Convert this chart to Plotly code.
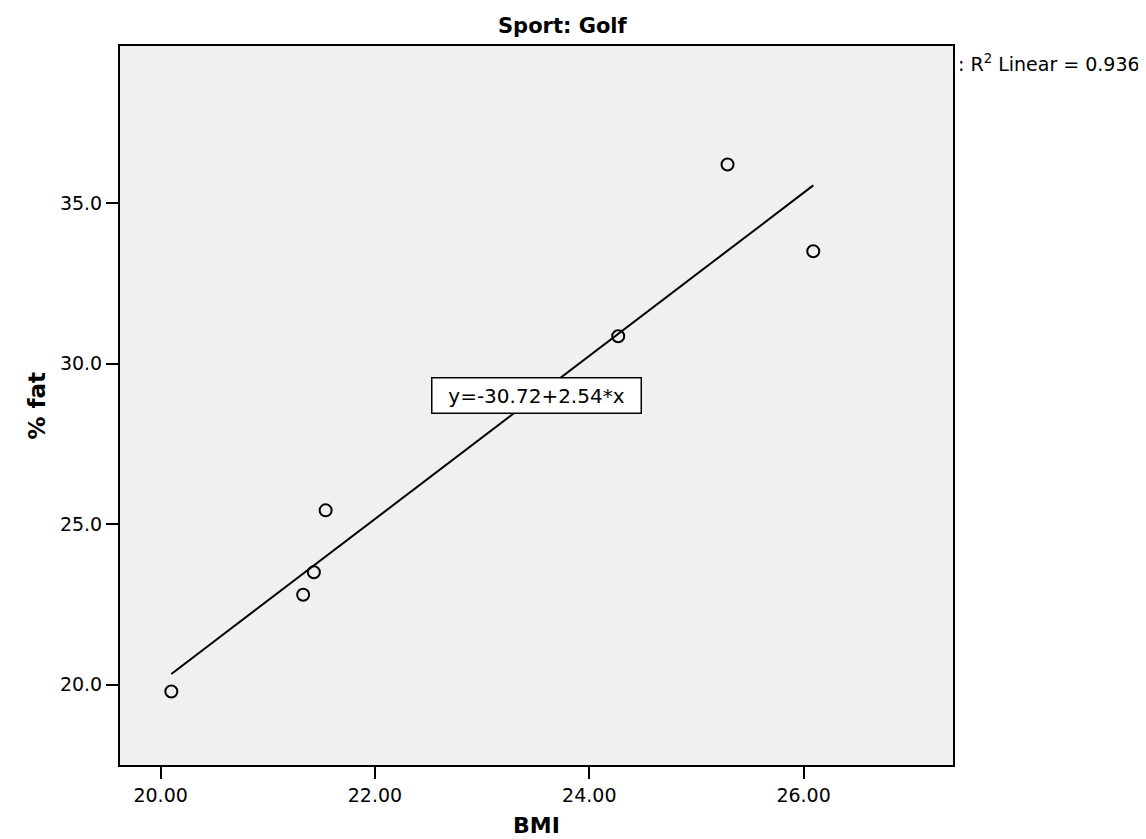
import plotly.graph_objects as go

# Data
bmi = [20.10, 21.33, 21.43, 21.54, 24.27, 25.29, 26.09]
pct_fat = [19.79, 22.80, 23.50, 25.43, 30.85, 36.20, 33.50]
intercept = -30.72
slope = 2.54
r_squared = 0.936
x_ticks = [20, 22, 24, 26]
y_ticks = [20, 25, 30, 35]

FONT = "DejaVu Sans"
W, H = 1146, 839
L, R, T, B = 112, 945, 38, 757  # plot area pixel edges

x_fit = [min(bmi), max(bmi)]
y_fit = [intercept + slope * v for v in x_fit]

fig = go.Figure()
fig.add_trace(go.Scatter(
    x=x_fit, y=y_fit, mode="lines",
    line=dict(color="black", width=2), showlegend=False, hoverinfo="skip"))
fig.add_trace(go.Scatter(
    x=bmi, y=pct_fat, mode="markers",
    marker=dict(symbol="circle-open", size=12, color="black",
                line=dict(color="black", width=2)),
    showlegend=False))

def px2paper_x(px):
    return (px - L) / (R - L)

def px2paper_y(py):
    return (B - py) / (B - T)

annotations = [
    dict(text="y=-30.72+2.54*x", x=23.51, y=29.02, xref="x", yref="y",
         showarrow=False, font=dict(family=FONT, size=20, color="black"),
         bgcolor="white", bordercolor="black", borderwidth=1.5,
         borderpad=1, width=206, height=32),
    dict(text=": R<sup>2</sup> Linear = %.3f" % r_squared,
         x=px2paper_x(948), y=px2paper_y(55), xref="paper", yref="paper",
         xanchor="left", yanchor="middle", showarrow=False,
         font=dict(family=FONT, size=19, color="black")),
    dict(text="<b>Sport: Golf</b>", x=px2paper_x(622), y=px2paper_y(18),
         xref="paper", yref="paper", xanchor="right", yanchor="middle",
         showarrow=False, font=dict(family=FONT, size=21, color="black")),
    dict(text="<b>BMI</b>", x=0.5, y=px2paper_y(818), xref="paper", yref="paper",
         xanchor="center", yanchor="middle", showarrow=False,
         font=dict(family=FONT, size=22, color="black")),
    dict(text="<b>% fat</b>", x=px2paper_x(28), y=0.5, xref="paper", yref="paper",
         xanchor="center", yanchor="middle", textangle=-90, showarrow=False,
         font=dict(family=FONT, size=23, color="black")),
]

fig.update_layout(
    width=W, height=H,
    margin=dict(l=L, r=W - R, t=T, b=H - B, pad=0),
    paper_bgcolor="white", plot_bgcolor="#f0f0f0",
    font=dict(family=FONT, size=19, color="black"),
    annotations=annotations,
    showlegend=False,
)
fig.update_xaxes(
    range=[19.621, 27.394], tickvals=x_ticks, ticktext=["%.2f" % v for v in x_ticks],
    ticks="outside", ticklen=12, tickwidth=2, tickcolor="black",
    showline=True, linecolor="black", linewidth=2, mirror=True,
    showgrid=False, zeroline=False, tickfont=dict(family=FONT, size=19))
fig.update_yaxes(
    range=[17.50, 39.89], tickvals=y_ticks, ticktext=["%.1f" % v for v in y_ticks],
    ticks="outside", ticklen=12, tickwidth=2, tickcolor="black",
    showline=True, linecolor="black", linewidth=2, mirror=True,
    showgrid=False, zeroline=False, tickfont=dict(family=FONT, size=19))

fig.write_html("out.html")
